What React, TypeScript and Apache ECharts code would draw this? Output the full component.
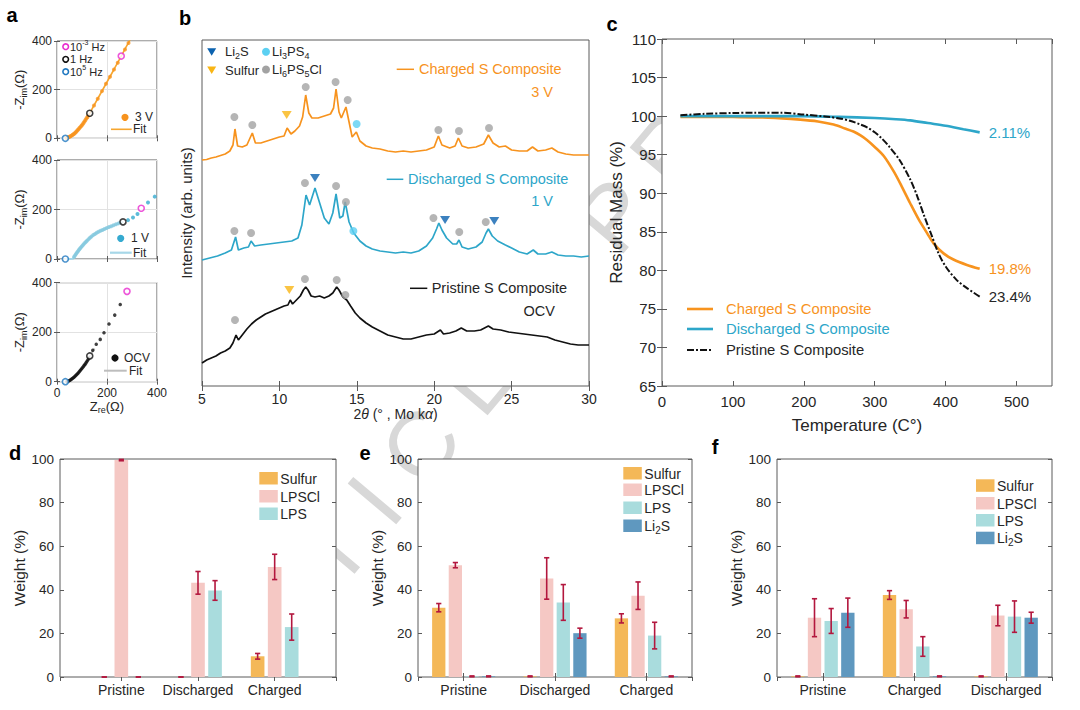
import React, { useEffect, useRef } from "react";
import * as echarts from "echarts";

const FONT = "'Liberation Sans', Arial, Helvetica, sans-serif";
const TXT = "#262626";
const AX = "#5a5a5a";
const ORANGE = "#F7931E";
const BLUE = "#2DA6C9";
const BLACK = "#111111";
const MAGENTA = "#E82CCF";
const HF_BLUE = "#1F78C1";
const ERR = "#B3173E";

// ---------------- panel a : EIS (Z_re, -Z_im) ----------------
const eis3V: number[][] = [[38,1],[42,2],[46,4],[50,6],[54,8],[58,11],[62,14],[66,17],[70,20],[74,24],[78,28],[82,33],[86,37],[90,42],[94,47],[98,52],[102,57],[106,63],[110,69],[114,75],[118,82],[122,88],[126,95],[148,135],[163,163],[180,194],[196,224],[212,253],[228,283],[243,311],[272,365],[286,392]];
const eis3VFit: number[][] = [[35,0],[45,3],[55,8],[65,15],[75,25],[85,36],[95,48],[105,62],[115,77],[125,93],[131,103],[150,139],[170,176],[190,213],[210,250],[230,287],[257,338],[275,373],[295,410]];
const eis1VDense: number[][] = [[68,8],[72,14],[76,20],[80,26],[84,31],[88,37],[92,42],[96,47],[100,52],[105,58],[110,64],[115,69],[120,74],[126,80],[132,86],[138,91],[145,97],[152,101],[159,106],[166,110],[174,114],[182,117],[190,121],[199,125],[208,129],[217,132],[226,136],[236,140],[246,144],[255,147]];
const eis1VLow: number[][] = [[284,157],[304,168],[322,182],[364,228],[391,252]];
const eis1VFit: number[][] = [[33,0],[50,0],[64,1],[68,6],[74,17],[82,29],[92,42],[104,57],[118,72],[134,87],[150,100],[170,111],[195,123],[220,133],[245,143],[264,150]];
const eisOCV: number[][] = [[40,1],[44,2],[48,4],[52,6],[56,9],[60,12],[64,15],[68,18],[72,22],[76,26],[80,30],[84,34],[88,39],[92,44],[96,49],[100,54],[104,59],[108,65],[112,70],[116,76],[120,83],[124,89],[128,96],[143,127],[157,151],[173,171],[188,198],[208,233],[231,269],[253,312]];
const eisOCVFit: number[][] = [[35,0],[45,2],[55,7],[65,15],[75,24],[85,35],[95,47],[105,59],[115,73],[125,89],[131,104],[140,118],[150,134]];
// frequency markers: 10^5 Hz, 1 Hz, 10^-3 Hz
const freq3V: number[][] = [[33.5,0],[131,103],[257,338]];
const freq1V: number[][] = [[33.5,0],[264,150],[337,205]];
const freqOCV: number[][] = [[33.5,0],[131,104],[280,365]];
const freqColors = [HF_BLUE, BLACK, MAGENTA];

// ---------------- panel b : XRD ----------------
const xrdCharged: number[][] = [[5.0,226],[5.3,226.5],[5.6,228],[5.9,229],[6.2,230.5],[6.5,232],[6.8,235],[7.0,241],[7.13,257],[7.3,240],[7.6,239],[7.9,241],[8.25,253],[8.45,243],[8.8,243],[9.2,245],[9.6,247],[10.0,249],[10.3,250],[10.5,258],[10.75,252],[11.0,255],[11.3,260],[11.5,269],[11.7,291],[11.9,273],[12.1,268],[12.5,268],[12.9,270],[13.3,272],[13.5,278],[13.66,297],[13.85,274],[14.0,268],[14.3,279],[14.5,264],[14.7,249],[14.97,254],[15.2,245],[15.6,240],[16.0,238],[16.5,237],[17.0,235],[17.5,234],[18.0,235],[18.5,234],[19.0,235],[19.5,236],[20.0,239],[20.27,250],[20.5,241],[21.0,238],[21.35,240],[21.56,248],[21.8,240],[22.2,238],[22.7,239],[23.2,242],[23.5,251],[23.8,243],[24.2,239],[24.6,240],[25.0,236],[25.5,235],[26.0,235],[26.35,239],[26.7,235],[27.2,236],[27.6,238],[28.0,234],[28.5,232],[29.0,231],[29.5,231],[30.0,231]];
const xrdDischarged: number[][] = [[5.0,126],[5.5,128],[6.0,130],[6.5,133],[6.9,136],[7.17,149],[7.35,136],[7.7,138],[8.0,139],[8.17,145],[8.4,140],[8.8,141],[9.3,142],[9.8,143],[10.3,144],[10.8,145],[11.2,148],[11.45,161],[11.72,191],[11.95,181],[12.3,198],[12.6,183],[12.9,168],[13.2,162],[13.45,173],[13.66,192],[13.9,168],[14.1,170],[14.25,184],[14.5,164],[14.8,153],[15.2,145],[15.6,140],[16.0,137],[16.5,135],[17.0,134],[17.5,133],[18.0,134],[18.5,133],[19.0,135],[19.5,140],[19.9,148],[20.15,157],[20.3,163],[20.5,156],[20.8,148],[21.2,142],[21.45,142],[21.6,146],[21.8,139],[22.2,137],[22.7,139],[23.1,144],[23.35,153],[23.5,157],[23.75,150],[24.1,145],[24.6,141],[25.0,138],[25.5,134],[26.0,132],[26.4,136],[26.7,132],[27.2,132],[27.6,134],[28.0,131],[28.5,130],[29.0,130],[29.5,129],[30.0,130]];
const xrdPristine: number[][] = [[5.0,23],[5.3,26],[5.6,28],[5.9,30],[6.2,33],[6.5,35],[6.8,38],[7.0,43],[7.2,51],[7.35,46],[7.6,51],[7.9,57],[8.2,62],[8.5,66],[8.8,69],[9.1,72],[9.4,74],[9.7,76],[10.0,78],[10.3,80],[10.55,81],[10.7,86],[10.85,82],[11.1,86],[11.35,90],[11.55,96],[11.7,99],[11.85,96],[12.05,90],[12.3,89],[12.6,90],[12.9,88],[13.2,90],[13.45,93],[13.7,99],[13.85,96],[14.1,89],[14.35,86],[14.6,80],[14.9,73],[15.2,68],[15.6,63],[16.0,59],[16.5,55],[17.0,51],[17.5,49],[18.0,47],[18.5,47],[19.0,49],[19.5,51],[20.0,52],[20.4,56],[20.6,52],[21.0,53],[21.4,55],[21.75,58],[22.1,55],[22.6,55],[23.0,56],[23.5,60],[23.8,57],[24.3,56],[24.8,54],[25.3,53],[25.8,52],[26.3,51],[26.8,50],[27.3,49],[27.8,46],[28.3,44],[28.8,42],[29.3,41],[29.7,41],[30.0,41]];
// phase markers [2theta, height]
const li6ps5clMarks: number[][] = [[7.09,269],[8.25,261],[11.7,299],[13.63,304],[14.41,286],[20.27,256],[21.6,255],[23.54,258],[11.65,203],[13.66,200],[14.3,184],[7.09,155],[8.17,153],[19.95,168],[21.62,154],[23.33,164],[7.13,66],[11.65,107],[13.7,106],[14.26,91]];
const li2sMarks: number[][] = [[12.3,208],[20.7,166],[23.88,165]];
const li3ps4Marks: number[][] = [[14.99,262],[14.78,155]];
const sulfurMarks: number[][] = [[10.47,271],[10.64,96]];

// ---------------- panel c : TGA ----------------
const tgaCharged: number[][] = [[26,99.9],[60,99.9],[100,99.88],[150,99.8],[195,99.54],[220,99.3],[242,98.9],[258,98.4],[270,98.0],[280,97.5],[289,96.9],[300,96.0],[313,94.8],[327,92.8],[338,90.9],[350,88.7],[362,86.6],[374,84.8],[383,83.5],[397,82.2],[411,81.4],[430,80.7],[448,80.2]];
const tgaDischarged: number[][] = [[26,100.0],[100,100.0],[200,100.0],[250,99.9],[300,99.75],[330,99.6],[350,99.45],[375,99.1],[400,98.76],[425,98.3],[448,97.89]];
const tgaPristine: number[][] = [[26,100.1],[60,100.3],[100,100.4],[130,100.45],[170,100.45],[200,100.2],[230,99.95],[250,99.7],[265,99.4],[280,98.9],[290,98.5],[300,97.9],[310,97.1],[320,96.1],[335,94.3],[350,91.8],[360,89.6],[370,87.0],[380,84.6],[390,82.2],[400,80.5],[415,78.8],[430,77.7],[448,76.6]];
const tgaNames = ["Charged S Composite", "Discharged S Composite", "Pristine S Composite"];
const tgaLoss = ["19.8%", "2.11%", "23.4%"];

// ---------------- panels d, e, f : phase fractions ----------------
const phaseNames = ["Sulfur", "LPSCl", "LPS", "Li2S"];
const phaseColors = ["#F4B858", "#F5C8C4", "#A9DCDD", "#5F98BF"];

const dCats = ["Pristine", "Discharged", "Charged"];
const dValues = [[0, 0, 9.5], [99.5, 43.2, 50.5], [0, 39.7, 22.9]];
const dErrors = [[0, 0, 1.3], [0.3, 5.2, 5.8], [0, 4.5, 6.0]];

const eCats = ["Pristine", "Discharged", "Charged"];
const eValues = [[31.8, 0.3, 26.9], [51.3, 45.2, 37.3], [0.3, 34.2, 19.0], [0.3, 20.1, 0.3]];
const eErrors = [[1.9, 0.2, 2.1], [1.2, 9.5, 6.3], [0.2, 8.2, 6.1], [0.2, 2.3, 0.2]];

const fCats = ["Pristine", "Charged", "Discharged"];
const fValues = [[0.3, 37.6, 0.3], [27.2, 31.1, 28.2], [25.7, 14.0, 27.7], [29.5, 0.3, 27.2]];
const fErrors = [[0.2, 2.0, 0.2], [8.7, 4.0, 4.7], [5.7, 4.5, 7.2], [6.7, 0.2, 2.5]];

// watermark fragments visible between the panels
const watermarkLeft = "R T I ";
const watermarkRight = "C L E   P R";

// ---------------------------------------------------------------
const richBase = (size: number, color = TXT) => ({
  n: { fontSize: size, fontFamily: FONT, color, lineHeight: size + 4 },
  s: { fontSize: Math.round(size * 0.68), fontFamily: FONT, color, lineHeight: Math.round(size * 0.68), verticalAlign: "bottom" },
  p: { fontSize: Math.round(size * 0.68), fontFamily: FONT, color, lineHeight: Math.round(size * 0.68), verticalAlign: "top" },
  i: { fontSize: size, fontFamily: FONT, color, fontStyle: "italic", lineHeight: size + 4 },
});

function mkAxis(gridIndex: number, c: any) {
  return {
    type: "value",
    gridIndex,
    position: c.position,
    min: c.min,
    max: c.max,
    interval: c.interval,
    minInterval: c.minInterval,
    maxInterval: c.maxInterval,
    axisLine: { show: false },
    axisTick: { show: c.ticks !== false, inside: true, length: c.tickLen ?? 4, lineStyle: { color: AX, width: 1 } },
    axisLabel: {
      show: !!c.labels,
      color: TXT,
      fontFamily: FONT,
      fontSize: c.fontSize ?? 12,
      margin: c.margin ?? 5,
      formatter: c.formatter,
      showMinLabel: c.showMin,
      showMaxLabel: c.showMax,
    },
    splitLine: { show: !!c.split, lineStyle: { color: "#e2e2e2", width: 1 } },
    name: c.name,
    nameLocation: "middle",
    nameGap: c.nameGap,
    nameRotate: c.nameRotate,
    nameTextStyle: c.nameStyle,
  };
}

const grids = [
  { left: 57, top: 41, width: 100, height: 97.3 },
  { left: 57, top: 160, width: 100, height: 99 },
  { left: 57, top: 282.7, width: 100, height: 99 },
  { left: 202, top: 40, width: 387, height: 346 },
  { left: 662, top: 39, width: 390, height: 347 },
  { left: 60, top: 459, width: 276, height: 218 },
  { left: 418, top: 459, width: 274, height: 218 },
  { left: 777, top: 459, width: 275, height: 218 },
].map((g) => ({ ...g, show: true, backgroundColor: "#ffffff", borderColor: AX, borderWidth: 1, containLabel: false }));

const xAxes: any[] = [];
const yAxes: any[] = [];
function addAxes(g: number, xc: any, yc: any, xm: any = {}, ym: any = {}) {
  xAxes.push(mkAxis(g, { ...xc, position: "bottom" }));
  xAxes.push(mkAxis(g, { ...xc, ...xm, position: "top", labels: false, split: false, name: undefined }));
  yAxes.push(mkAxis(g, { ...yc, position: "left" }));
  yAxes.push(mkAxis(g, { ...yc, ...ym, position: "right", labels: false, split: false, name: undefined }));
}

const zName = {
  fontSize: 13,
  color: TXT,
  fontFamily: FONT,
  rich: richBase(13),
};
// panel a
for (let k = 0; k < 3; k++) {
  addAxes(
    k,
    {
      min: 0, max: 400, interval: 200, labels: k === 2, split: true, fontSize: 12, tickLen: 3,
      name: k === 2 ? "{n|Z}{s|re}{n|(Ω)}" : undefined, nameGap: 15, nameStyle: zName,
    },
    {
      min: 0, max: 400, interval: 200, labels: true, split: true, fontSize: 12, tickLen: 3,
      name: "{n|-Z}{s|im}{n|(Ω)}", nameGap: 28, nameRotate: 90, nameStyle: zName,
    }
  );
}
// panel b
addAxes(
  3,
  {
    min: 5, max: 30, interval: 5, labels: true, fontSize: 14, tickLen: 5, margin: 6,
    name: "{n|2}{i|θ}{n| (° , Mo k}{i|α}{n|)}", nameGap: 19,
    nameStyle: { fontSize: 14, color: TXT, fontFamily: FONT, rich: richBase(14) },
  },
  {
    min: 0, max: 346, ticks: false, labels: false,
    name: "Intensity (arb. units)", nameGap: 8, nameRotate: 90,
    nameStyle: { fontSize: 15, color: TXT, fontFamily: FONT },
  }
);
// panel c
addAxes(
  4,
  {
    min: 0, max: 550, interval: 100, labels: true, fontSize: 15, tickLen: 5, margin: 8, showMax: false,
    name: "Temperature (C°)", nameGap: 31, nameStyle: { fontSize: 17, color: TXT, fontFamily: FONT },
  },
  {
    min: 65, max: 110, interval: 5, labels: true, fontSize: 15, tickLen: 5, margin: 6,
    name: "Residual Mass (%)", nameGap: 37, nameRotate: 90, nameStyle: { fontSize: 17, color: TXT, fontFamily: FONT },
  }
);
// panels d, e, f
const catFmt = (cats: string[]) => (v: number) => {
  const r = Math.round(v);
  return Math.abs(v - r) < 1e-6 && r >= 1 && r <= cats.length ? cats[r - 1] : "";
};
[
  { g: 5, cats: dCats, min: 0.2, max: 3.8 },
  { g: 6, cats: eCats, min: 0.5, max: 3.5 },
  { g: 7, cats: fCats, min: 0.5, max: 3.5 },
].forEach(({ g, cats, min, max }) => {
  addAxes(
    g,
    { min, max, minInterval: 1, maxInterval: 1, labels: true, fontSize: 14, tickLen: 4, margin: 6, formatter: catFmt(cats), showMin: false, showMax: false },
    {
      min: 0, max: 100, interval: 20, labels: true, fontSize: 13.5, tickLen: 4, margin: 6,
      name: "Weight (%)", nameGap: 31, nameRotate: 90, nameStyle: { fontSize: 15.5, color: TXT, fontFamily: FONT },
    }
  );
});

const ax = (g: number) => ({ xAxisIndex: 2 * g, yAxisIndex: 2 * g });

const series: any[] = [];

// ---- panel a series
const eisSets = [
  { g: 0, fit: eis3VFit, fitColor: "#F6A630", fitW: 1.6, pts: [{ d: eis3V, c: ORANGE, s: 4 }], freq: freq3V },
  { g: 1, fit: eis1VFit, fitColor: "#A7D7E8", fitW: 2.2, pts: [{ d: eis1VDense, c: "#86C9DF", s: 4 }, { d: eis1VLow, c: "#35AAD0", s: 4 }], freq: freq1V },
  { g: 2, fit: eisOCVFit, fitColor: "#BDBDBD", fitW: 2, pts: [{ d: eisOCV, c: BLACK, s: 3.5 }], freq: freqOCV },
];
eisSets.forEach((st) => {
  st.pts.forEach((p) => {
    series.push({ type: "scatter", ...ax(st.g), data: p.d, symbolSize: p.s, itemStyle: { color: p.c }, z: 3, silent: true });
  });
  series.push({ type: "line", ...ax(st.g), data: st.fit, symbol: "none", lineStyle: { color: st.fitColor, width: st.fitW }, z: 2, silent: true });
  series.push({
    type: "scatter", ...ax(st.g), symbolSize: 6, z: 4, silent: true, clip: false,
    data: st.freq.map((v, i) => ({ value: v, itemStyle: { color: "#ffffff", borderColor: freqColors[i], borderWidth: 1.6 } })),
  });
});

// ---- panel b series
[
  { d: xrdCharged, c: ORANGE },
  { d: xrdDischarged, c: BLUE },
  { d: xrdPristine, c: BLACK },
].forEach((s) => {
  series.push({ type: "line", ...ax(3), data: s.d, symbol: "none", lineStyle: { color: s.c, width: 1.7 }, z: 2, silent: true });
});
series.push({ type: "scatter", ...ax(3), data: li6ps5clMarks, symbol: "circle", symbolSize: 8, itemStyle: { color: "#A2A2A2" }, z: 3, silent: true });
series.push({ type: "scatter", ...ax(3), data: li3ps4Marks, symbol: "circle", symbolSize: 8, itemStyle: { color: "#5CD0F2" }, z: 3, silent: true });
series.push({ type: "scatter", ...ax(3), data: li2sMarks, symbol: "triangle", symbolRotate: 180, symbolSize: [10, 8], itemStyle: { color: "#0B62AF" }, z: 3, silent: true });
series.push({ type: "scatter", ...ax(3), data: sulfurMarks, symbol: "triangle", symbolRotate: 180, symbolSize: [10, 8], itemStyle: { color: "#F9B514" }, z: 3, silent: true });

// ---- panel c series
[
  { d: tgaCharged, c: ORANGE, type: "solid" as any, w: 2.6 },
  { d: tgaDischarged, c: BLUE, type: "solid" as any, w: 2.6 },
  { d: tgaPristine, c: BLACK, type: [7, 2, 2, 2] as any, w: 2 },
].forEach((s, i) => {
  series.push({
    type: "line", ...ax(4), name: tgaNames[i], data: s.d, symbol: "none", smooth: 0.3, silent: true,
    lineStyle: { color: s.c, width: s.w, type: s.type },
    endLabel: { show: true, formatter: tgaLoss[i], color: s.c === BLACK ? TXT : s.c, fontSize: 15, fontFamily: FONT, distance: 9 },
  });
});

// ---- panels d/e/f series (grouped bars + error bars)
function barSeries(g: number, values: number[][], errors: number[][]) {
  const n = values.length;
  const groupW = Math.min(0.8, n / (n + 1.5));
  const spacing = groupW / n;
  const bw = spacing * 0.8;
  values.forEach((vals, s) => {
    series.push({
      type: "custom",
      ...ax(g),
      silent: true,
      z: 3,
      encode: { x: 0, y: 1 },
      data: vals.map((v, i) => [i + 1, v, errors[s][i]]),
      renderItem: (params: any, api: any) => {
        const x = api.value(0) + (s - (n - 1) / 2) * spacing;
        const v = api.value(1);
        const e = api.value(2);
        const tl = api.coord([x - bw / 2, v]);
        const br = api.coord([x + bw / 2, 0]);
        const top = api.coord([x, v + e]);
        const bot = api.coord([x, v - e]);
        const cap = 2.6;
        return {
          type: "group",
          children: [
            { type: "rect", shape: { x: tl[0], y: tl[1], width: br[0] - tl[0], height: br[1] - tl[1] }, style: { fill: phaseColors[s] } },
            { type: "line", shape: { x1: top[0], y1: top[1], x2: bot[0], y2: bot[1] }, style: { stroke: ERR, lineWidth: 1.6 } },
            { type: "line", shape: { x1: top[0] - cap, y1: top[1], x2: top[0] + cap, y2: top[1] }, style: { stroke: ERR, lineWidth: 1.6 } },
            { type: "line", shape: { x1: bot[0] - cap, y1: bot[1], x2: bot[0] + cap, y2: bot[1] }, style: { stroke: ERR, lineWidth: 1.6 } },
          ],
        };
      },
    });
  });
}
barSeries(5, dValues, dErrors);
barSeries(6, eValues, eErrors);
barSeries(7, fValues, fErrors);

// ---------------- graphic decorations ----------------
const G: any[] = [];
const txt = (x: number, y: number, text: string, o: any = {}) =>
  G.push({
    type: "text", x, y, silent: true, z: 10,
    style: { text, fill: o.color ?? TXT, fontSize: o.size ?? 13, fontFamily: FONT, fontWeight: o.weight ?? "normal", align: o.align ?? "left", verticalAlign: "middle", rich: o.rich },
  });
const hline = (x1: number, x2: number, y: number, color: string, w = 1.5, dash?: number[]) =>
  G.push({ type: "line", silent: true, z: 10, shape: { x1, y1: y, x2, y2: y }, style: { stroke: color, lineWidth: w, lineDash: dash } });
const dot = (x: number, y: number, r: number, fill: string, stroke?: string) =>
  G.push({ type: "circle", silent: true, z: 10, shape: { cx: x, cy: y, r }, style: { fill, stroke, lineWidth: stroke ? 1.6 : 0 } });
const tri = (x: number, y: number, color: string) =>
  G.push({ type: "polygon", silent: true, z: 10, shape: { points: [[x - 4.5, y - 3.5], [x + 4.5, y - 3.5], [x, y + 4]] }, style: { fill: color } });
const box = (x: number, y: number, w: number, h: number, color: string) =>
  G.push({ type: "rect", silent: true, z: 10, shape: { x, y, width: w, height: h }, style: { fill: color } });

// watermark (behind plot areas)
G.push({
  type: "group", x: 399, y: 471, rotation: (50 * Math.PI) / 180, z: -10, silent: true,
  children: [
    { type: "text", z: -10, style: { text: watermarkLeft, align: "right", verticalAlign: "middle", fontSize: 92, fontFamily: FONT, fill: "#d8d8d8" } },
    { type: "text", z: -10, style: { text: watermarkRight, align: "left", verticalAlign: "middle", fontSize: 92, fontFamily: FONT, fill: "#d8d8d8" } },
  ],
});

// panel letters
[["a", 12, 15], ["b", 185, 18], ["c", 612, 24], ["d", 15, 453], ["e", 365, 453], ["f", 715, 447]].forEach(([t, x, y]) =>
  txt(x as number, y as number, t as string, { size: 20, weight: "bold", align: "center", color: "#000" })
);

// panel a legends
dot(65.7, 46.7, 2.8, "#fff", MAGENTA);
txt(70, 46.7, "{n|10}{p|-3}{n| Hz}", { size: 11, rich: richBase(11) });
dot(65.7, 59.3, 2.8, "#fff", BLACK);
txt(70, 59.3, "1 Hz", { size: 11 });
dot(65.7, 71.7, 2.8, "#fff", HF_BLUE);
txt(70, 71.7, "{n|10}{p|5}{n| Hz}", { size: 11, rich: richBase(11) });
dot(125, 117.3, 3.6, ORANGE);
txt(135, 117.3, "3 V", { size: 12 });
hline(111, 131.7, 129.3, "#F6A630", 1.6);
txt(133, 129.3, "Fit", { size: 12 });
dot(120.7, 238.3, 3.6, "#35AAD0");
txt(131, 238.3, "1 V", { size: 12 });
hline(110, 131.7, 252.7, "#A7D7E8", 2.2);
txt(133, 252.7, "Fit", { size: 12 });
dot(115, 358, 3.6, BLACK);
txt(124, 358, "OCV", { size: 12 });
hline(104, 126.7, 370.7, "#BDBDBD", 2);
txt(129, 370.7, "Fit", { size: 12 });

// panel b legend + curve labels
tri(211.7, 51.7, "#0B62AF");
txt(225, 51.7, "{n|Li}{s|2}{n|S}", { size: 13, rich: richBase(13) });
dot(266, 51.7, 4, "#5CD0F2");
txt(272, 51.7, "{n|Li}{s|3}{n|PS}{s|4}", { size: 13, rich: richBase(13) });
tri(211.7, 70, "#F9B514");
txt(225, 70, "Sulfur", { size: 13 });
dot(266, 69.5, 4, "#A2A2A2");
txt(272, 69.5, "{n|Li}{s|6}{n|PS}{s|5}{n|Cl}", { size: 13, rich: richBase(13) });

hline(396.7, 414, 69.3, ORANGE, 1.5);
txt(419, 69.3, "Charged S Composite", { size: 14.5, color: ORANGE });
txt(553, 91.7, "3 V", { size: 14.5, color: ORANGE, align: "right" });
hline(386.7, 403.3, 179.3, BLUE, 1.5);
txt(408, 179.3, "Discharged S Composite", { size: 14.5, color: BLUE });
txt(553, 200.5, "1 V", { size: 14.5, color: BLUE, align: "right" });
hline(410, 427.3, 288.3, BLACK, 1.5);
txt(431.7, 288.3, "Pristine S Composite", { size: 14.5, color: TXT });
txt(555, 310.5, "OCV", { size: 14.5, color: TXT, align: "right" });

// panel c legend
hline(687, 713, 309, ORANGE, 2.6);
txt(726, 309, tgaNames[0], { size: 14.8, color: ORANGE });
hline(687, 713, 329, BLUE, 2.6);
txt(726, 329, tgaNames[1], { size: 14.8, color: BLUE });
hline(687, 713, 350, BLACK, 2, [7, 2, 2, 2]);
txt(726, 350, tgaNames[2], { size: 14.8, color: TXT });

// panels d/e/f legends
const phaseLabel = (i: number) => (i === 3 ? "{n|Li}{s|2}{n|S}" : phaseNames[i]);
[
  { x: 259.3, ys: [472, 490, 507.5], n: 3 },
  { x: 623.3, ys: [467, 483.5, 501.5, 519.5], n: 4 },
  { x: 976, ys: [479.3, 497, 514, 531.7], n: 4 },
].forEach((lg) => {
  for (let i = 0; i < lg.n; i++) {
    box(lg.x, lg.ys[i], 18.5, 12.5, phaseColors[i]);
    txt(lg.x + 21, lg.ys[i] + 6.5, phaseLabel(i), { size: 14, rich: richBase(14) });
  }
});

const option: any = {
  animation: false,
  backgroundColor: "#ffffff",
  textStyle: { fontFamily: FONT },
  grid: grids,
  xAxis: xAxes,
  yAxis: yAxes,
  series,
  graphic: { elements: G },
};

export default function App() {
  const ref = useRef<HTMLDivElement>(null);
  useEffect(() => {
    document.body.style.margin = "0";
    const chart = echarts.init(ref.current as HTMLDivElement, undefined, { renderer: "svg" });
    chart.setOption(option);
    return () => chart.dispose();
  }, []);
  return <div ref={ref} style={{ width: 1080, height: 710, background: "#fff" }} />;
}
